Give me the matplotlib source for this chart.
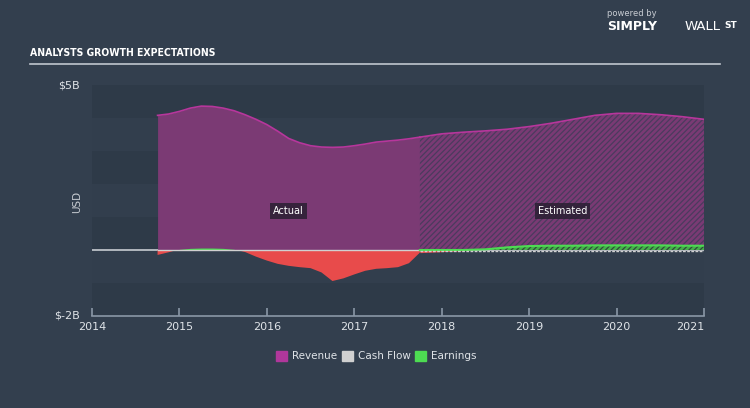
import numpy as np
import matplotlib.pyplot as plt
from matplotlib.patches import Rectangle

# Values in $B
years_actual = [2014.75, 2014.875, 2015.0, 2015.125, 2015.25, 2015.375, 2015.5, 2015.625, 2015.75, 2015.875,
                2016.0, 2016.125, 2016.25, 2016.375, 2016.5, 2016.625, 2016.75, 2016.875, 2017.0, 2017.125,
                2017.25, 2017.375, 2017.5, 2017.625, 2017.75]
revenue_actual = [4.08, 4.12, 4.20, 4.30, 4.36, 4.35, 4.30, 4.22, 4.10, 3.96,
                  3.80, 3.60, 3.38, 3.25, 3.16, 3.12, 3.11, 3.12, 3.16, 3.21,
                  3.27, 3.30, 3.33, 3.37, 3.42]
earnings_actual = [-0.15, -0.07, 0.02, 0.05, 0.06, 0.06, 0.05, 0.02, -0.06, -0.20,
                   -0.32, -0.42, -0.48, -0.52, -0.55, -0.68, -0.94, -0.86, -0.74, -0.63,
                   -0.57, -0.55, -0.52, -0.40, -0.08]
cashflow_actual = [0.0] * len(years_actual)

years_est = [2017.75, 2018.0, 2018.25, 2018.5, 2018.75, 2019.0, 2019.25, 2019.5, 2019.75, 2020.0,
             2020.25, 2020.5, 2020.75, 2021.0]
revenue_est = [3.42, 3.52, 3.57, 3.61, 3.66, 3.74, 3.84, 3.96, 4.08, 4.14,
               4.14, 4.10, 4.04, 3.96]
earnings_est = [-0.08, -0.05, -0.02, 0.02, 0.08, 0.12, 0.13, 0.13, 0.14, 0.14,
                0.14, 0.14, 0.13, 0.13]
cashflow_est = [-0.02] * len(years_est)

x_ticks = [2014, 2015, 2016, 2017, 2018, 2019, 2020, 2021]

BG = '#333f4e'
REV_LINE = '#b7369c'
REV_FILL = '#7b3a74'
EARN_POS = '#4ddc52'
EARN_NEG = '#e84b4b'
CASH = '#d0d0d0'

plt.rcParams['font.family'] = ['DejaVu Sans']
plt.rcParams['hatch.linewidth'] = 0.9
fig = plt.figure(figsize=(7.5, 4.08), dpi=100)
fig.patch.set_facecolor(BG)
ax = fig.add_axes([92 / 750, 1 - 316 / 408, 612 / 750, 231 / 408])
ax.set_facecolor(BG)
ax.set_xlim(2014, 2021)
ax.set_ylim(-2, 5)

# alternating bands, 1B each
for i, lo in enumerate(range(-2, 5)):
    ax.axhspan(lo, lo + 1, color='#2e3a48' if i % 2 == 0 else '#323e4d', lw=0, zorder=0)

ax.axhline(0, color='#c8ccd2', lw=1.2, zorder=1)

# actual
ax.fill_between(years_actual, 0, revenue_actual, color=REV_FILL, lw=0, zorder=2)
ax.plot(years_actual, revenue_actual, color=REV_LINE, lw=1.2, zorder=3)
ea = np.array(earnings_actual)
ax.fill_between(years_actual, 0, ea, where=ea < 0, interpolate=True, color=EARN_NEG, lw=0, zorder=3)
ax.fill_between(years_actual, 0, ea, where=ea >= 0, interpolate=True, color=EARN_POS, lw=0, zorder=3)
ax.plot(years_actual, cashflow_actual, color=CASH, lw=1, zorder=4)

# estimated (hatched)
ax.fill_between(years_est, 0, revenue_est, facecolor='#7a3a74', edgecolor='#4b3a5e',
                hatch='//////', lw=0, zorder=2)
ax.plot(years_est, revenue_est, color=REV_LINE, lw=1.2, zorder=3)
ee = np.array(earnings_est)
ax.fill_between(years_est, 0, ee, where=ee < 0, interpolate=True, color=EARN_NEG, lw=0, zorder=3)
ax.fill_between(years_est, 0, ee, where=ee >= 0, interpolate=True, facecolor='#45b04a',
                edgecolor='#2f4a3a', hatch='//////', lw=0, zorder=3)
ax.plot(years_est, np.maximum(ee, 0), color=EARN_POS, lw=1.5, zorder=4)
ax.plot(years_est, cashflow_est, color=CASH, lw=1, ls=(0, (2, 1)), zorder=4)

box = dict(boxstyle='square,pad=0.3', fc='#2a1f33', ec='none', alpha=0.85)
ax.text(2016.25, 1.17, 'Actual', color='white', fontsize=7, ha='center', va='center', bbox=box, zorder=5)
ax.text(2019.38, 1.17, 'Estimated', color='white', fontsize=7, ha='center', va='center', bbox=box, zorder=5)

# axes styling
for s in ['top', 'left', 'right']:
    ax.spines[s].set_visible(False)
ax.spines['bottom'].set_color('#8a97a6')
ax.spines['bottom'].set_linewidth(1.2)
ax.set_yticks([])
ax.set_xticks(x_ticks)
ax.set_xticklabels([str(t) for t in x_ticks])
ax.tick_params(axis='x', direction='in', length=6, color='#8a97a6', width=1.2,
               labelcolor='#e0e4e8', labelsize=8, pad=4)
ax.get_xticklabels()[-1].set_ha('right')

fig.text(80 / 750, 1 - 85 / 408, '$5B', color='#e0e4e8', fontsize=8, ha='right', va='center')
fig.text(80 / 750, 1 - 315 / 408, '$-2B', color='#e0e4e8', fontsize=8, ha='right', va='center')
fig.text(77 / 750, 1 - 202 / 408, 'USD', color='#c8ccd2', fontsize=7.5, rotation=90, ha='center', va='center')

# title
fig.text(30 / 750, 1 - 53 / 408, 'ANALYSTS GROWTH EXPECTATIONS', color='white', fontsize=7.5,
         fontweight='bold', stretch='condensed', ha='left', va='center')
fig.add_artist(plt.Line2D([30 / 750, 720 / 750], [1 - 64 / 408] * 2, color='#c0c6ce', lw=1.2))

# branding
fig.text(607 / 750, 1 - 14 / 408, 'powered by', color='#c8ccd2', fontsize=6, ha='left', va='center')
fig.text(607 / 750, 1 - 27 / 408, 'SIMPLY', color='white', fontsize=9, fontweight='bold', ha='left', va='center')
fig.text(685 / 750, 1 - 27 / 408, 'WALL', color='white', fontsize=9.5, ha='left', va='center')
fig.text(724 / 750, 1 - 26 / 408, 'ST', color='white', fontsize=6.5, fontweight='bold', ha='left', va='center')

# legend
leg_items = [('Revenue', '#b0379b', 276), ('Cash Flow', '#d0d0d0', 342), ('Earnings', '#4ddc52', 415)]
for name, col, px in leg_items:
    fig.add_artist(Rectangle((px / 750, 1 - 361 / 408), 11 / 750, 10 / 408, color=col))
    fig.text((px + 16) / 750, 1 - 356 / 408, name, color='#e0e4e8', fontsize=7.5, ha='left', va='center')

fig.savefig('out.png', dpi=100, facecolor=BG)
